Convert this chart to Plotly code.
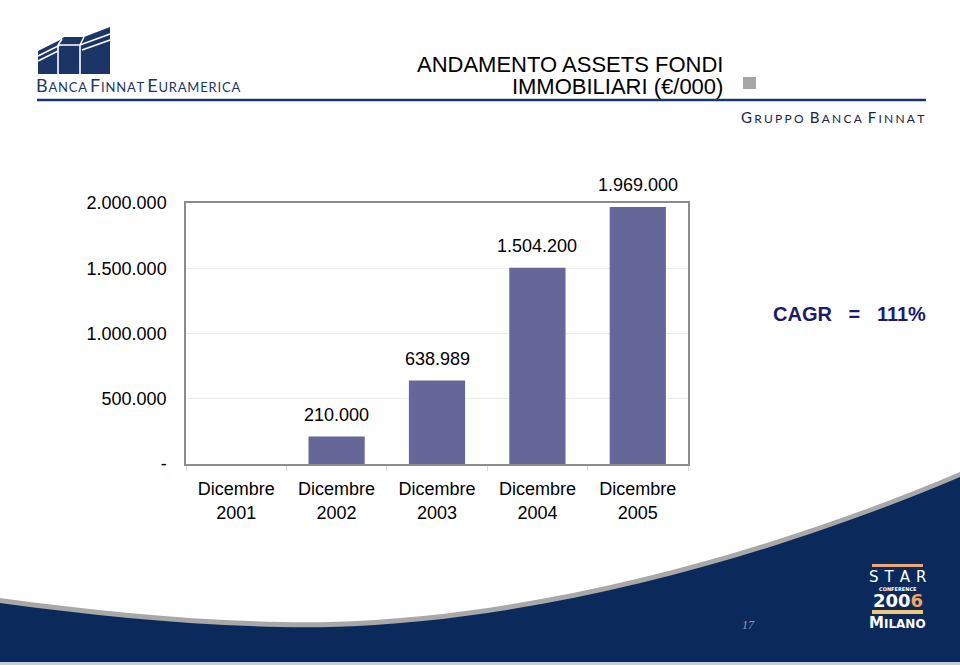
import plotly.graph_objects as go

# ---------------- data ----------------
categories = ["Dicembre<br>2001", "Dicembre<br>2002", "Dicembre<br>2003",
              "Dicembre<br>2004", "Dicembre<br>2005"]
assets = [None, 210000, 638989, 1504200, 1969000]
y_tickvals = [0, 500000, 1000000, 1500000, 2000000]
y_ticktext = ["-", "500.000", "1.000.000", "1.500.000", "2.000.000"]
title_line1 = "ANDAMENTO ASSETS FONDI"
title_line2 = "IMMOBILIARI (€/000)"
cagr_text = "CAGR\u00a0\u00a0\u00a0=\u00a0\u00a0\u00a0111%"
page_number = "17"

# ---------------- layout geometry ----------------
W, H = 960, 665
L, R, T, B = 186, 688, 203, 464   # plot area in pixels


def px(x):
    return (x - L) / (R - L)


def py(y):
    return (B - y) / (B - T)


def path(cmds, close=True):
    """cmds: list of (command, [points]); one command per segment."""
    out = []
    for cmd, pts in cmds:
        coords = " ".join(f"{px(x):.5f},{py(y):.5f}" for x, y in pts)
        out.append(f"{cmd}{coords}")
    return " ".join(out) + (" Z" if close else "")


def poly(points, close=True):
    cmds = [("M", [points[0]])] + [("L", [p]) for p in points[1:]]
    return path(cmds, close)


FONT = "Liberation Sans, Arial, sans-serif"
NAVY = "#0b2a5b"
BAR = "#666699"


def fmt(v):
    return f"{v:,.0f}".replace(",", ".")


fig = go.Figure()
fig.add_trace(go.Bar(
    x=categories, y=assets, marker_color=BAR, marker_line_width=0,
    hoverinfo="skip", showlegend=False,
))

annotations = []
for c, v in zip(categories, assets):
    if v is None:
        continue
    annotations.append(dict(
        x=c, y=v, xref="x", yref="y", text=fmt(v), showarrow=False,
        yanchor="bottom", yshift=10, font=dict(family=FONT, size=18, color="#000"),
    ))

shapes = []


# ---- bottom wave (gray edge + navy fill) ----
def wave(dy):
    return path([
        ("M", [(0, 598 + dy)]),
        ("C", [(110, 613 + dy), (230, 624 + dy), (330, 622 + dy)]),
        ("C", [(560, 616 + dy), (800, 540 + dy), (960, 472 + dy)]),
        ("L", [(960, 665)]),
        ("L", [(0, 665)]),
    ])


shapes.append(dict(type="path", xref="paper", yref="paper", path=wave(0),
                   fillcolor="#a8a8a8", line=dict(width=0), layer="below"))
shapes.append(dict(type="path", xref="paper", yref="paper", path=wave(5),
                   fillcolor=NAVY, line=dict(width=0), layer="below"))
shapes.append(dict(type="rect", xref="paper", yref="paper",
                   x0=px(0), x1=px(960), y0=py(665), y1=py(662),
                   fillcolor="#c4ccd8", line=dict(width=0), layer="below"))

# ---- header line ----
shapes.append(dict(type="line", xref="paper", yref="paper",
                   x0=px(37), x1=px(926), y0=py(100), y1=py(100),
                   line=dict(color="#1c3567", width=2.5)))
# gray square
shapes.append(dict(type="rect", xref="paper", yref="paper",
                   x0=px(743), x1=px(756), y0=py(89), y1=py(77),
                   fillcolor="#a6a6a6", line=dict(width=0)))

# ---- logo building ----
LOGO = "#1c3567"
shapes.append(dict(type="path", xref="paper", yref="paper",
                   path=poly([(38, 74), (38, 51), (60, 40), (64, 37), (84, 37),
                              (110, 27), (110, 74)]),
                   fillcolor=LOGO, line=dict(width=0)))
for seg in [[(38, 56), (60, 45), (80, 45), (110, 34)],
            [(38, 61), (58, 51)],
            [(58, 45), (58, 74)],
            [(80, 45), (80, 74)],
            [(62, 39), (58, 45)],
            [(84, 37), (80, 45)],
            [(82, 50), (110, 40)]]:
    shapes.append(dict(type="path", xref="paper", yref="paper",
                       path=poly(seg, close=False),
                       line=dict(color="white", width=1.6)))

# ---- STAR logo bars ----
shapes.append(dict(type="rect", xref="paper", yref="paper",
                   x0=px(872), x1=px(923), y0=py(567), y1=py(564),
                   fillcolor="#e9a97a", line=dict(width=0)))
shapes.append(dict(type="rect", xref="paper", yref="paper",
                   x0=px(872), x1=px(923), y0=py(614), y1=py(610),
                   fillcolor="#f0c679", line=dict(width=0)))


def ann(x, y, text, size, color="#000", family=FONT, xanchor="left", **kw):
    annotations.append(dict(x=px(x), y=py(y), xref="paper", yref="paper",
                            text=text, showarrow=False, xanchor=xanchor,
                            yanchor="middle", font=dict(family=family, size=size, color=color),
                            **kw))


# title: two tight lines in one text (line pitch 22px, glyphs 22px)
ann(725, 76,
    f"<span style='font-size:22px'>{title_line1}</span><br>"
    f"<span style='font-size:22px'>{title_line2}</span>",
    16.9, xanchor="right", align="right")


# logo texts (small caps emulation)
def smallcaps(words, big, small, sep="\u2009", space="\u00a0"):
    parts = []
    for w in words:
        first = f"<span style='font-size:{big}px'>{w[0]}</span>"
        rest = f"<span style='font-size:{small}px'>{sep.join(w[1:])}</span>"
        parts.append(first + sep + rest)
    return space.join(parts)


ann(34, 85, smallcaps(["BANCA", "FINNAT", "EURAMERICA"], 18, 13, sep="\u200a"),
    13, color="#1c3567", family="Lato, Noto Sans, sans-serif")
ann(739, 117, smallcaps(["GRUPPO", "BANCA", "FINNAT"], 15, 12, sep="\u2009\u200a",
                        space="\u00a0\u00a0"),
    12, color="#1a2443", family="Lato, Noto Sans, sans-serif")

# CAGR
ann(771, 314, f"<b>{cagr_text}</b>", 20, color="#1b1b6b")

# STAR CONFERENCE 2006 MILANO
ann(897.5, 577, "S\u2009\u2009T\u2009\u2009A\u2009\u2009R", 15, color="white",
    family="DejaVu Sans, sans-serif", xanchor="center")
ann(897.5, 588.5, "<b>CONFERENCE</b>", 5, color="white",
    family="DejaVu Sans, sans-serif", xanchor="center")
ann(897.5, 600, "<b>200<span style='fill:#f0a566'>6</span></b>", 18, color="white",
    family="DejaVu Sans, sans-serif", xanchor="center")
ann(897.5, 623, "<b><span style='font-size:15px'>M</span>ILANO</b>", 12, color="white",
    family="DejaVu Sans, sans-serif", xanchor="center")

# page number
ann(748, 625, f"<i>{page_number}</i>", 12, color="#8e9ab8",
    family="Liberation Serif, serif", xanchor="center")

fig.update_layout(
    width=W, height=H,
    margin=dict(l=L, r=W - R, t=T, b=H - B, pad=0),
    paper_bgcolor="white", plot_bgcolor="white",
    bargap=0.44,
    showlegend=False,
    font=dict(family=FONT, size=18, color="#000"),
    xaxis=dict(
        type="category", categoryorder="array", categoryarray=categories,
        showline=True, linecolor="#8c8c8c", linewidth=1.5, mirror=True,
        ticks="outside", tickson="boundaries", ticklen=5, tickcolor="#d9d9d9",
        tickfont=dict(family=FONT, size=18, color="#000"),
        ticklabelstandoff=8, showgrid=False, fixedrange=True,
    ),
    yaxis=dict(
        range=[0, 2000000], tickvals=y_tickvals, ticktext=y_ticktext,
        showline=True, linecolor="#8c8c8c", linewidth=1.5, mirror=True,
        showgrid=True, gridcolor="#ececec", gridwidth=1, zeroline=False,
        ticks="", ticklabelstandoff=14,
        tickfont=dict(family=FONT, size=18, color="#000"), fixedrange=True,
    ),
    annotations=annotations,
    shapes=shapes,
)

fig.write_html("out.html")
